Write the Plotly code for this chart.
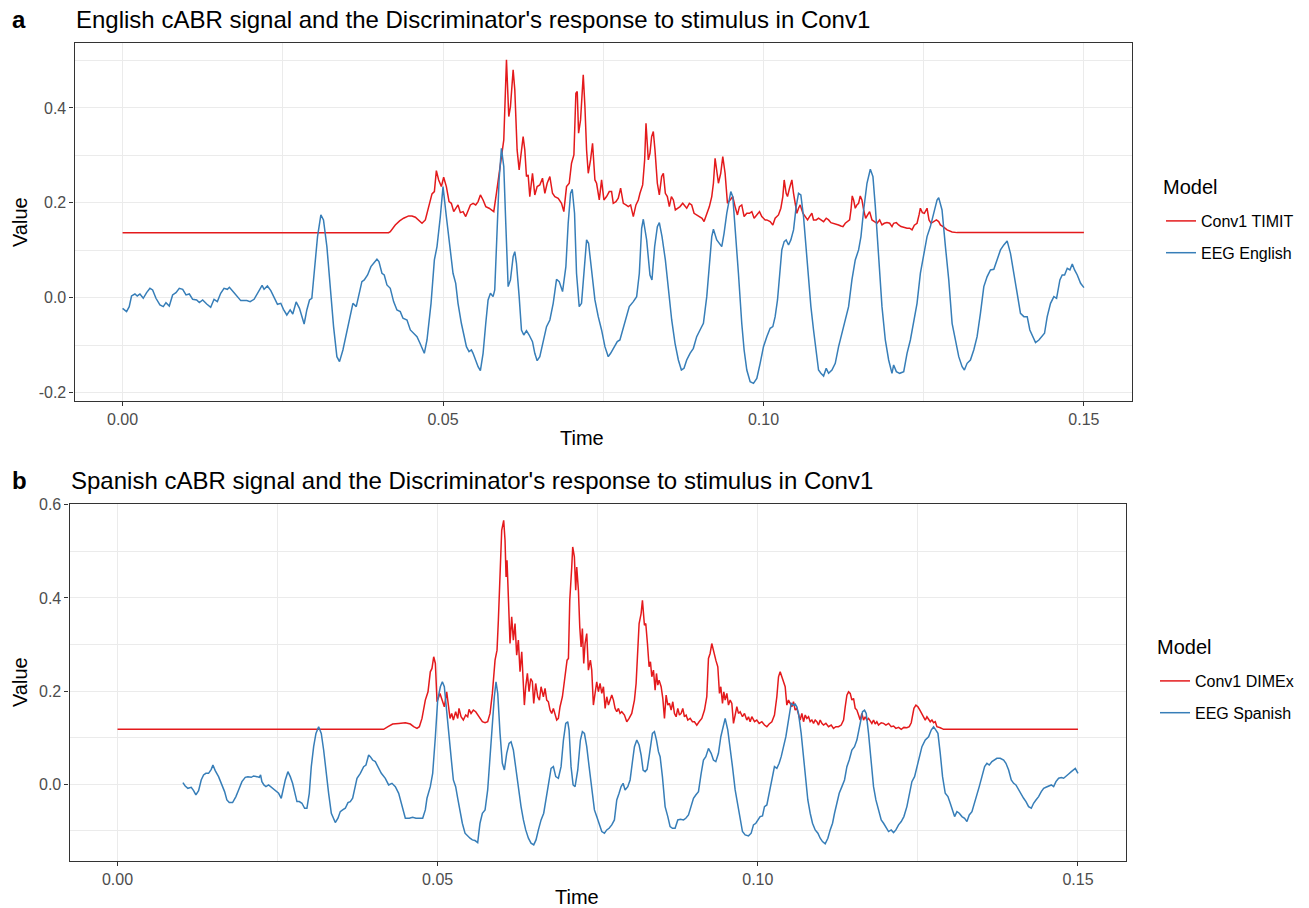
import plotly.graph_objects as go

# ---------------- Panel a data ----------------
a_red_t = [0.0, 0.0415, 0.04177, 0.04255, 0.04323, 0.04385, 0.04464, 0.04516, 0.04568, 0.0462, 0.04672,
           0.04724, 0.04776, 0.04828, 0.04865, 0.04896, 0.04932, 0.04974, 0.0501,
           0.05052, 0.05094, 0.0513, 0.05167, 0.05198, 0.05234, 0.05271, 0.05313, 0.05354, 0.05391, 0.05427,
           0.05469, 0.0551, 0.05547, 0.05583, 0.05625, 0.05667, 0.05719, 0.05755, 0.05792, 0.05833, 0.05875,
           0.05911, 0.05948, 0.0599, 0.06026, 0.06052, 0.06094, 0.0612, 0.06156, 0.06188, 0.06224, 0.0625,
           0.06276, 0.06302, 0.06328, 0.06354, 0.06396, 0.06432, 0.06469, 0.0651, 0.06552, 0.06589, 0.06625,
           0.06667, 0.06708, 0.06745, 0.06797, 0.06849, 0.06885, 0.06927, 0.06969, 0.07005, 0.07042, 0.07073,
           0.07094, 0.07115, 0.07146, 0.07188, 0.07214, 0.0724, 0.07266, 0.07302, 0.07333, 0.0737, 0.07396,
           0.07438, 0.07474, 0.0751, 0.07552, 0.07594, 0.0763, 0.07656, 0.07698, 0.07734, 0.07771, 0.07813,
           0.07854, 0.07891, 0.07927, 0.07969, 0.0801, 0.08047, 0.08073, 0.08115, 0.08146, 0.08167, 0.08203,
           0.08229, 0.08255, 0.08281, 0.08307, 0.08344, 0.08375, 0.08411, 0.08438, 0.08469, 0.085, 0.08531,
           0.08563, 0.08594, 0.08625, 0.08656, 0.08698, 0.0874, 0.08776, 0.08802, 0.08844, 0.0888, 0.08917,
           0.08958, 0.09, 0.09042, 0.09073, 0.09115, 0.09156, 0.09193, 0.09219, 0.09245, 0.09271, 0.09297,
           0.09333, 0.09365, 0.09401, 0.09438, 0.09479, 0.09521, 0.09557, 0.09594, 0.09625, 0.09661, 0.09698,
           0.0974, 0.09781, 0.09818, 0.09854, 0.09896, 0.09938, 0.09974, 0.10026,
           0.10052, 0.10104, 0.10146, 0.10182, 0.10234, 0.10271, 0.10302, 0.10323, 0.10354, 0.10375, 0.10406,
           0.10443, 0.10469, 0.10495, 0.10521, 0.10547, 0.10573, 0.10615, 0.10651, 0.10688, 0.10719, 0.10755,
           0.10781, 0.10823, 0.10859, 0.10896, 0.10938, 0.10979, 0.11016, 0.11052, 0.11094, 0.11135, 0.11172,
           0.11208, 0.1124, 0.11276, 0.11313, 0.11344, 0.11365, 0.11385, 0.11406, 0.11432, 0.11458, 0.11484,
           0.1151, 0.11536, 0.11563, 0.11594, 0.11625, 0.11656, 0.11693, 0.11729, 0.11771, 0.11813, 0.11849,
           0.11885, 0.11927, 0.11969, 0.12005, 0.12031, 0.12073, 0.12109, 0.12146, 0.12188, 0.1224, 0.12281,
           0.12318, 0.12354, 0.12396, 0.12427, 0.12448, 0.12479, 0.1251, 0.12552, 0.12583, 0.12615, 0.12656,
           0.12698, 0.12734, 0.1276, 0.12802, 0.12865, 0.12943, 0.13021, 0.15]
a_red_v = [0.137, 0.137, 0.1392, 0.1533, 0.1617, 0.1674, 0.1723, 0.1723, 0.1695, 0.1639, 0.1568,
           0.1639, 0.192, 0.2187, 0.2236, 0.2679, 0.2482, 0.2342, 0.2539,
           0.2342, 0.2025, 0.199, 0.1814, 0.1885, 0.1955, 0.1793, 0.1814, 0.1709, 0.185, 0.1955,
           0.199, 0.1955, 0.2025, 0.2166, 0.206, 0.192, 0.1885, 0.185, 0.1814, 0.2201, 0.2623,
           0.3045, 0.3326, 0.5014, 0.3819, 0.403, 0.4803, 0.4381, 0.3115, 0.2693, 0.3115, 0.3397,
           0.3115, 0.2553, 0.2588, 0.2131, 0.2623, 0.2166, 0.2342, 0.2377, 0.2518, 0.2201, 0.2412,
           0.2553, 0.2201, 0.2131, 0.2096, 0.199, 0.1814, 0.2342, 0.2412, 0.2834, 0.301, 0.4311,
           0.4346, 0.3467, 0.3748, 0.4698, 0.403, 0.3115, 0.2623, 0.2904, 0.3256, 0.2482, 0.2412,
           0.206, 0.2482, 0.206, 0.2131, 0.2236, 0.2236, 0.199, 0.2025, 0.2096, 0.2307, 0.199,
           0.1955, 0.192, 0.1955, 0.1709, 0.1955, 0.206, 0.2201, 0.2377, 0.2904, 0.3678, 0.2904,
           0.3045, 0.3397, 0.3502, 0.3115, 0.2412, 0.2166, 0.2553, 0.2623, 0.2201, 0.2131, 0.192,
           0.2131, 0.206, 0.185, 0.1885, 0.192, 0.199, 0.192, 0.1885, 0.199, 0.1955, 0.1779,
           0.1744, 0.1709, 0.1674, 0.1603, 0.1779, 0.192, 0.2131, 0.2412, 0.2939, 0.2693, 0.2412,
           0.2623, 0.2975, 0.2623, 0.199, 0.206, 0.2131, 0.192, 0.1744, 0.192, 0.1955, 0.1709,
           0.1779, 0.1779, 0.1814, 0.1674, 0.1744, 0.1814, 0.1709, 0.1639,
           0.1639, 0.1603, 0.1533, 0.1674, 0.1744, 0.1885, 0.2131, 0.2482, 0.2201, 0.2131, 0.2307,
           0.2482, 0.2201, 0.1955, 0.1779, 0.1885, 0.1955, 0.1779, 0.1709, 0.1639, 0.1709, 0.1779,
           0.1639, 0.1639, 0.1674, 0.1639, 0.1603, 0.1674, 0.1639, 0.1582, 0.1568, 0.1554, 0.1533,
           0.1512, 0.1498, 0.1568, 0.1603, 0.1639, 0.1849, 0.2145, 0.206, 0.1885, 0.1955, 0.199,
           0.2145, 0.206, 0.1849, 0.1674, 0.1744, 0.1814, 0.1639, 0.1603, 0.1568, 0.1639, 0.1533,
           0.1568, 0.1582, 0.1568, 0.1498, 0.1568, 0.1582, 0.1533, 0.1498, 0.1484, 0.1463, 0.1463,
           0.1428, 0.1526, 0.1568, 0.1744, 0.1885, 0.1793, 0.1779, 0.1885, 0.1639, 0.1568, 0.1603,
           0.1639, 0.1603, 0.1533, 0.1498, 0.1428, 0.1385, 0.1371, 0.1371]

a_blue_t = [0.0, 0.000625, 0.00104, 0.0014, 0.00193, 0.00229, 0.00271, 0.00323, 0.00375, 0.00427, 0.00469,
            0.00521, 0.00583, 0.00635, 0.00677, 0.00729, 0.00781, 0.00833, 0.00885, 0.00938, 0.0099, 0.01042,
            0.01094, 0.01156, 0.01198, 0.0125, 0.01313, 0.01375, 0.01427, 0.01479, 0.01531, 0.01583, 0.01635,
            0.01667, 0.0174, 0.01792, 0.01844, 0.01938, 0.0199, 0.02052, 0.02104, 0.02177, 0.02208, 0.0226,
            0.02313, 0.02365, 0.02417, 0.02469, 0.0251, 0.02563, 0.02615, 0.02656, 0.02708, 0.0276, 0.02797,
            0.02833, 0.02875, 0.02917, 0.02953, 0.0299, 0.03042, 0.03094, 0.03135, 0.03188, 0.0324, 0.03292,
            0.03344, 0.03385, 0.03438, 0.0349, 0.03542, 0.03594, 0.03646, 0.03682, 0.03734, 0.03771, 0.03823,
            0.03875, 0.03927, 0.03969, 0.04, 0.04047, 0.04083, 0.04125, 0.04177, 0.04229, 0.04281, 0.04333,
            0.04375, 0.04438, 0.0449, 0.04542, 0.04594, 0.04646, 0.04708, 0.0475, 0.04813, 0.04865, 0.04906,
            0.04958,
            0.05, 0.05052, 0.05104, 0.05156, 0.05198, 0.05234, 0.05286, 0.05323, 0.05365, 0.05406, 0.05443,
            0.05469, 0.0551, 0.05547, 0.05583, 0.05625, 0.05667, 0.05703, 0.0574, 0.05781, 0.05807, 0.05833,
            0.05875, 0.05911, 0.05948, 0.05979, 0.06016, 0.06052, 0.06094, 0.0612, 0.06146, 0.06188, 0.06224,
            0.0626, 0.06302, 0.06344, 0.06396, 0.06432, 0.06469, 0.0651, 0.06563, 0.06615, 0.06667, 0.06719,
            0.06771, 0.06813, 0.06865, 0.06917, 0.06953, 0.0699, 0.07016, 0.07052, 0.07083, 0.07125, 0.07161,
            0.07198, 0.0724, 0.07271, 0.07318, 0.0737, 0.07422, 0.07474, 0.07526, 0.07578, 0.07615, 0.07667,
            0.07719, 0.0776, 0.07802, 0.07854, 0.07906, 0.07969, 0.08021, 0.08063, 0.08099, 0.08125, 0.08177,
            0.08229, 0.0826, 0.08302, 0.08344, 0.08375, 0.08417, 0.08469, 0.08521, 0.08568, 0.0862, 0.08672,
            0.08719, 0.0876, 0.08802, 0.08854, 0.08906, 0.08958, 0.0901, 0.09063, 0.09115, 0.09156, 0.09193,
            0.09219, 0.09271, 0.09349, 0.09385, 0.09427, 0.09469, 0.0949, 0.09521, 0.09557, 0.09609, 0.09661,
            0.09698, 0.0974, 0.09792, 0.09844, 0.09896, 0.09948, 0.1, 0.10052, 0.10104,
            0.10146, 0.10182, 0.10219, 0.1025, 0.10286, 0.10323, 0.10354, 0.10391, 0.10427, 0.10469, 0.1051,
            0.10547, 0.10583, 0.10625, 0.10667, 0.10703, 0.1074, 0.10781, 0.10823, 0.10859, 0.10896, 0.10938,
            0.10979, 0.11016, 0.11068, 0.1112, 0.11172, 0.11224, 0.11276, 0.11328, 0.1138, 0.11432, 0.11484,
            0.11521, 0.11563, 0.11615, 0.11667, 0.11708, 0.11745, 0.11797, 0.11849, 0.11901, 0.11953, 0.12005,
            0.12031, 0.12073, 0.12125, 0.12188, 0.1224, 0.12292, 0.12344, 0.12396, 0.12448, 0.125, 0.12552,
            0.12604, 0.12656, 0.12708, 0.12734, 0.12786, 0.12839, 0.12891, 0.12943, 0.12995, 0.13047, 0.13099,
            0.13135, 0.13177, 0.13229, 0.13281, 0.13333, 0.13385, 0.13438, 0.1349, 0.13542, 0.13594, 0.13646,
            0.13698, 0.1375, 0.13802, 0.13854, 0.13906, 0.13958, 0.1401, 0.14063, 0.14115, 0.14156, 0.14193,
            0.14245, 0.14297, 0.14349, 0.14385, 0.14427, 0.14479, 0.14531, 0.14573, 0.14625, 0.14661, 0.14698,
            0.1474, 0.14781, 0.14818, 0.14854, 0.14896, 0.14948, 0.15]
a_blue_v = [-0.0225, -0.0295, -0.019, 0.0035, 0.0077, 0.0035, 0.0077, -0.0014, 0.0105, 0.0197, 0.0162,
            -0.0014, -0.0155, -0.019, -0.0105, -0.0176, 0.0056, 0.0105, 0.0197, 0.0176, 0.0056, 0.0077,
            -0.0035, -0.0049, -0.0105, -0.0049, -0.0134, -0.0204, -0.0035, -0.0084, 0.0091, 0.0197, 0.0176,
            0.0218, 0.0105, 0.0021, -0.0063, -0.0063, -0.0084, -0.0035, 0.0091, 0.026, 0.0176, 0.0246,
            0.0148, -0.0014, -0.0141, -0.012, -0.0246, -0.0366, -0.026, -0.0345, -0.0091, -0.0225, -0.0401,
            -0.0556, -0.026, -0.0049, -0.0014, 0.0513, 0.1287, 0.1744, 0.1639, 0.1076, 0.0232, -0.0612,
            -0.1245, -0.135, -0.1104, -0.0752, -0.0401, -0.012, -0.019, 0.0056, 0.0338, 0.0373, 0.0478,
            0.0654, 0.0738, 0.0809, 0.076, 0.0513, 0.0478, 0.0267, 0.0197, -0.0084, -0.026, -0.0295,
            -0.0436, -0.0471, -0.0682, -0.0752, -0.0823, -0.0977, -0.1174, -0.0893, -0.012, 0.0795, 0.1076,
            0.1709,
            0.2342, 0.1709, 0.1076, 0.0513, 0.0302, -0.012, -0.0541, -0.0752, -0.1034, -0.1139, -0.1104,
            -0.1174, -0.135, -0.1456, -0.154, -0.1174, -0.0541, -0.0049, 0.0091, 0.0021, 0.0162, 0.1217,
            0.2482, 0.315, 0.2764, 0.1568, 0.0232, 0.0373, 0.0865, 0.097, 0.0724, 0.0021, -0.0682,
            -0.0788, -0.0696, -0.0788, -0.0928, -0.1174, -0.1329, -0.1245, -0.0893, -0.0612, -0.0471, -0.012,
            0.0387, 0.0338, 0.0127, 0.0654, 0.1568, 0.2201, 0.2286, 0.1779, 0.0513, -0.019, -0.012,
            0.0513, 0.1217, 0.1146, 0.0584, -0.0049, -0.0401, -0.0682, -0.1034, -0.1245, -0.1174, -0.1034,
            -0.0928, -0.0893, -0.0682, -0.0471, -0.019, -0.0084, 0.0021, 0.0513, 0.1463, 0.1653, 0.1217,
            0.0478, 0.0373, 0.1076, 0.1498, 0.1582, 0.1287, 0.0795, 0.0091, -0.0471, -0.0963, -0.1315,
            -0.1526, -0.1491, -0.1315, -0.1174, -0.1069, -0.0823, -0.0682, -0.0541, 0.0021, 0.0795, 0.1287,
            0.1442, 0.1217, 0.1076, 0.1357, 0.1779, 0.2131, 0.2236, 0.2131, 0.1498, 0.0513, -0.0541,
            -0.1104, -0.1526, -0.1772, -0.1807, -0.1702, -0.1385, -0.1034, -0.0823, -0.0647,
            -0.0612, -0.0401, -0.0049, 0.0513, 0.1006, 0.1181, 0.1217, 0.1111, 0.1217, 0.1428, 0.192,
            0.2201, 0.2166, 0.1709, 0.0935, 0.0373, -0.019, -0.0682, -0.1104, -0.1526, -0.1596, -0.1653,
            -0.1491, -0.1596, -0.1526, -0.1385, -0.1034, -0.0752, -0.0471, -0.019, 0.0373, 0.0795, 0.1006,
            0.1287, 0.1849, 0.2412, 0.2707, 0.2553, 0.192, 0.0935, -0.019, -0.0893, -0.1315, -0.1596,
            -0.142, -0.1561, -0.1596, -0.1561, -0.1174, -0.0893, -0.0471, -0.012, 0.0513, 0.0865, 0.1287,
            0.1498, 0.1779, 0.206, 0.211, 0.1849, 0.1076, 0.0373, -0.0541, -0.0893, -0.1245, -0.1456,
            -0.1526, -0.1385, -0.1315, -0.1104, -0.0823, -0.0331, 0.0232, 0.0443, 0.0584, 0.0598, 0.0795,
            0.1006, 0.1111, 0.1196, 0.0935, 0.0513, 0.0162, -0.0331, -0.0401, -0.0401, -0.0682, -0.0788,
            -0.0949, -0.0893, -0.0823, -0.0752, -0.0401, -0.012, 0.0021, -0.0014, 0.0373, 0.0478, 0.0478,
            0.0619, 0.0584, 0.071, 0.0584, 0.0478, 0.0302, 0.0211]

# ---------------- Panel b data ----------------
b_red_t = [0.0, 0.0415, 0.04156, 0.04224, 0.04297, 0.04391, 0.04495, 0.04573, 0.04625, 0.04677, 0.04714,
           0.04755, 0.04807, 0.04849, 0.04885, 0.04911, 0.04938, 0.04964, 0.0499,
           0.05036, 0.05073, 0.05104, 0.05141, 0.05167, 0.05193, 0.05219, 0.05245, 0.05281, 0.05313, 0.05333,
           0.05365, 0.05401, 0.05438, 0.05469, 0.0549, 0.05521, 0.05557, 0.05594, 0.05625, 0.05661, 0.05698,
           0.0574, 0.05781, 0.05818, 0.05854, 0.05896, 0.05927, 0.05948, 0.05974, 0.06, 0.06031, 0.06052,
           0.06068, 0.06083, 0.06104, 0.0613, 0.06156, 0.06182, 0.06208, 0.06234, 0.0626, 0.06286, 0.06313,
           0.06333, 0.06354, 0.06375, 0.06401, 0.06427, 0.06453, 0.06479, 0.065, 0.06531, 0.06563, 0.06589,
           0.06615, 0.06651, 0.06677, 0.06703, 0.06729, 0.06755, 0.06781, 0.06807, 0.06833, 0.06859, 0.06885,
           0.06911, 0.06948, 0.0699, 0.07021, 0.07042, 0.07063, 0.07094, 0.07109, 0.07135, 0.07156, 0.07172,
           0.07198, 0.07219, 0.0724, 0.0726, 0.07281, 0.07302, 0.07328, 0.07354, 0.07385, 0.07406, 0.07432,
           0.07458, 0.07484, 0.0751, 0.07536, 0.07563, 0.07589, 0.07615, 0.07641, 0.07667, 0.07693, 0.07719,
           0.07745, 0.07771, 0.07797, 0.07823, 0.07849, 0.07875, 0.07917, 0.07953, 0.0799, 0.08031, 0.08073,
           0.08099, 0.08125, 0.08146, 0.08177, 0.08198, 0.08229, 0.0825, 0.08276, 0.08302, 0.08323, 0.08344,
           0.0837, 0.08396, 0.08417, 0.08438, 0.08458, 0.0849, 0.08516, 0.08542, 0.08568, 0.08594, 0.0862,
           0.08646, 0.08672, 0.08698, 0.08724, 0.0875, 0.08776, 0.08802, 0.08828, 0.08854, 0.0888, 0.08906,
           0.08943, 0.08979, 0.0901, 0.09047, 0.09083, 0.09125, 0.09167, 0.09203, 0.09229, 0.09255, 0.09281,
           0.09313, 0.09344, 0.09375, 0.09401, 0.09422, 0.09448, 0.09469, 0.0949, 0.09516, 0.09542, 0.09568,
           0.09594, 0.0962, 0.09646, 0.09672, 0.09698, 0.09724, 0.0976, 0.09792, 0.09828, 0.09854, 0.0988,
           0.09906, 0.09948, 0.09984, 0.10021, 0.10063,
           0.10104, 0.10141, 0.10177, 0.10219, 0.1026, 0.10297, 0.10323, 0.10349, 0.10375, 0.10401, 0.10427,
           0.10453, 0.10479, 0.10505, 0.10531, 0.10557, 0.10583, 0.10609, 0.10635, 0.10661, 0.10688, 0.10714,
           0.1074, 0.10766, 0.10792, 0.10818, 0.10844, 0.1087, 0.10896, 0.10922, 0.10948, 0.10974, 0.11,
           0.11026, 0.11063, 0.11104, 0.11146, 0.11182, 0.11219, 0.1126, 0.11302, 0.11339, 0.11365, 0.11391,
           0.11417, 0.11443, 0.11469, 0.11495, 0.11521, 0.11547, 0.11573, 0.11599, 0.11625, 0.11651, 0.11677,
           0.11703, 0.11729, 0.11755, 0.11781, 0.11807, 0.11833, 0.11859, 0.11885, 0.11927, 0.11964, 0.12,
           0.12042, 0.12083, 0.1212, 0.12156, 0.12198, 0.1224, 0.12281, 0.12328, 0.12365, 0.12396, 0.12417,
           0.12438, 0.12469, 0.125, 0.12531, 0.12563, 0.12589, 0.12615, 0.12641, 0.12667, 0.12693, 0.12719,
           0.12745, 0.12771, 0.12797, 0.12849, 0.12901, 0.15]
b_red_v = [0.118, 0.118, 0.1179, 0.1236, 0.1293, 0.1307, 0.1321, 0.1293, 0.1236, 0.12, 0.1236,
           0.1414, 0.1807, 0.1986, 0.2414, 0.2486, 0.2736, 0.2593, 0.1771,
           0.195, 0.1807, 0.1664, 0.1986, 0.1664, 0.1414, 0.1521, 0.1379, 0.1557, 0.1414, 0.1629,
           0.145, 0.1379, 0.1486, 0.145, 0.1607, 0.1521, 0.1593, 0.1557, 0.1486, 0.1414, 0.1343,
           0.1321, 0.1343, 0.1521, 0.195, 0.2664, 0.2879, 0.3521, 0.4664, 0.545, 0.5664, 0.5236,
           0.445, 0.4807, 0.4021, 0.3021, 0.3593, 0.3093, 0.345, 0.2771, 0.3093, 0.2414, 0.2843,
           0.2307, 0.17, 0.2093, 0.2379, 0.1986, 0.2271, 0.22, 0.1736, 0.2164, 0.1879, 0.1807,
           0.2093, 0.1879, 0.2057, 0.1807, 0.1771, 0.1593, 0.1521, 0.1629, 0.1521, 0.1379, 0.1414,
           0.1664, 0.1879, 0.2379, 0.2664, 0.27, 0.395, 0.4664, 0.5093, 0.4879, 0.4164, 0.4664,
           0.4164, 0.3379, 0.295, 0.3343, 0.2593, 0.3021, 0.3236, 0.245, 0.2664, 0.245, 0.17,
           0.195, 0.22, 0.1986, 0.2164, 0.195, 0.2093, 0.1629, 0.1879, 0.17, 0.1807, 0.1914,
           0.1807, 0.1629, 0.1557, 0.1629, 0.1521, 0.1557, 0.1486, 0.1343, 0.1414, 0.1521, 0.1807,
           0.2164, 0.2879, 0.345, 0.3664, 0.395, 0.3414, 0.345, 0.3021, 0.2521, 0.2629, 0.2307,
           0.245, 0.2021, 0.2379, 0.2129, 0.2236, 0.2093, 0.1843, 0.1414, 0.1914, 0.17, 0.1736,
           0.1593, 0.1771, 0.1521, 0.145, 0.1629, 0.1486, 0.1521, 0.1629, 0.145, 0.1486, 0.1379,
           0.1414, 0.1343, 0.1343, 0.1271, 0.1343, 0.1414, 0.1593, 0.1879, 0.27, 0.2807, 0.3021,
           0.2807, 0.2664, 0.2521, 0.195, 0.2093, 0.1736, 0.1986, 0.1807, 0.195, 0.17, 0.1807,
           0.1736, 0.1307, 0.1521, 0.1664, 0.1521, 0.1557, 0.145, 0.1521, 0.1379, 0.145, 0.1343,
           0.145, 0.1343, 0.1379, 0.1307, 0.1343,
           0.1271, 0.1236, 0.1293, 0.1343, 0.1486, 0.1879, 0.2307, 0.2414, 0.2307, 0.22, 0.2093,
           0.17, 0.1807, 0.1736, 0.1664, 0.1771, 0.1593, 0.1629, 0.1521, 0.1379, 0.1521, 0.1343,
           0.1486, 0.1414, 0.145, 0.1343, 0.1379, 0.1307, 0.1379, 0.1343, 0.1271, 0.1379, 0.1307,
           0.1271, 0.1307, 0.1236, 0.1271, 0.12, 0.1236, 0.1236, 0.1271, 0.1379, 0.1664, 0.1914,
           0.1986, 0.195, 0.1807, 0.1843, 0.1629, 0.1593, 0.1486, 0.1379, 0.1521, 0.1379, 0.145,
           0.1379, 0.1414, 0.1343, 0.1307, 0.1379, 0.1293, 0.1343, 0.1271, 0.1321, 0.1307, 0.1271,
           0.1307, 0.1236, 0.125, 0.12, 0.1221, 0.1179, 0.1221, 0.1214, 0.1236, 0.1321, 0.145,
           0.1629, 0.17, 0.1664, 0.1593, 0.1521, 0.145, 0.1379, 0.145, 0.1379, 0.1343, 0.1379,
           0.1321, 0.1343, 0.1236, 0.1214, 0.1179, 0.1179]

b_blue_t = [0.01021, 0.01057, 0.01099, 0.01151, 0.01188, 0.01224, 0.01266, 0.01307, 0.01344, 0.0138, 0.01422,
            0.01464, 0.0149, 0.01526, 0.01578, 0.0163, 0.01672, 0.01708, 0.01745, 0.01797, 0.01849, 0.01891,
            0.01943, 0.01995, 0.02036, 0.02089, 0.02125, 0.02177, 0.02214, 0.02234, 0.02255, 0.02286, 0.02318,
            0.02359, 0.02401, 0.02438, 0.02474, 0.02516, 0.02557, 0.02594, 0.0262, 0.02661, 0.02698, 0.02734,
            0.02766, 0.02802, 0.02839, 0.0288, 0.02922, 0.02958, 0.02995, 0.03026, 0.03063, 0.03099, 0.03141,
            0.03182, 0.03219, 0.03255, 0.03297, 0.03339, 0.03375, 0.03401, 0.03443, 0.03479, 0.03516, 0.03557,
            0.03599, 0.03635, 0.03672, 0.03703, 0.0374, 0.03792, 0.03844, 0.0388, 0.03922, 0.03948, 0.03984,
            0.04026, 0.04068, 0.0412, 0.04182, 0.04234, 0.04286, 0.04339, 0.04391, 0.04443, 0.04495, 0.04557,
            0.04609, 0.04661, 0.04714, 0.04766, 0.04807, 0.04833, 0.04885, 0.04922, 0.04964, 0.05, 0.05042,
            0.05073, 0.05104, 0.05141, 0.05177, 0.05219, 0.05245, 0.05281, 0.05313, 0.05349, 0.05385, 0.05427,
            0.05469, 0.05505, 0.05542, 0.05583, 0.05625, 0.05661, 0.05698, 0.0574, 0.05781, 0.05818, 0.05854,
            0.05885, 0.05911, 0.05938, 0.05974, 0.0601, 0.06042, 0.06078, 0.06115, 0.06146, 0.06182, 0.06219,
            0.0626, 0.06302, 0.06339, 0.06375, 0.06417, 0.06458, 0.065, 0.06536, 0.06573, 0.06615, 0.06656,
            0.06688, 0.06729, 0.06771, 0.06807, 0.06844, 0.06885, 0.06927, 0.06964, 0.07, 0.07031, 0.07052,
            0.07083, 0.07115, 0.07146, 0.07188, 0.07229, 0.0726, 0.07292, 0.07328, 0.07365, 0.07406, 0.07448,
            0.07484, 0.07521, 0.07563, 0.07604, 0.07641, 0.07677, 0.07719, 0.0776, 0.07797, 0.07833, 0.07865,
            0.07896, 0.07927, 0.07969, 0.08005, 0.08042, 0.08073, 0.0811, 0.08146, 0.08177, 0.08208, 0.0824,
            0.08271, 0.08302, 0.08333, 0.08354, 0.08385, 0.08417, 0.08448, 0.08474, 0.0851, 0.08552, 0.08594,
            0.0863, 0.08667, 0.08708, 0.0875, 0.08792, 0.08839, 0.08875, 0.08917, 0.08958, 0.08995, 0.09031,
            0.09073, 0.09115, 0.09151, 0.09188, 0.09229, 0.09271, 0.09307, 0.09344, 0.09385, 0.09422, 0.09453,
            0.0949, 0.09531, 0.09568, 0.09604, 0.09646, 0.09688, 0.09724, 0.0976, 0.09802, 0.09854, 0.09896,
            0.09932, 0.09969, 0.1, 0.10036, 0.10073, 0.10104,
            0.10141, 0.10167, 0.10193, 0.10229, 0.1026, 0.10297, 0.10333, 0.10365, 0.10401, 0.10438, 0.10479,
            0.10521, 0.10557, 0.10583, 0.10609, 0.10635, 0.10677, 0.10714, 0.1075, 0.10781, 0.10818, 0.10854,
            0.10896, 0.10938, 0.10974, 0.1101, 0.11052, 0.11094, 0.1113, 0.11167, 0.11198, 0.11234, 0.11271,
            0.11313, 0.11354, 0.11391, 0.11427, 0.11469, 0.1151, 0.11547, 0.11583, 0.11615, 0.11635, 0.11667,
            0.11693, 0.11729, 0.11771, 0.11807, 0.11844, 0.11885, 0.11927, 0.11964, 0.12, 0.12042, 0.12083,
            0.1212, 0.12156, 0.12198, 0.1224, 0.12281, 0.12328, 0.12365, 0.12406, 0.12448, 0.12484, 0.12521,
            0.12563, 0.12615, 0.12667, 0.12708, 0.12745, 0.12781, 0.12813, 0.12849, 0.12885, 0.12927, 0.12969,
            0.13005, 0.13042, 0.13073, 0.1311, 0.13146, 0.13188, 0.13229, 0.13266, 0.13302, 0.13344, 0.13385,
            0.13422, 0.13458, 0.135, 0.13542, 0.13578, 0.13615, 0.13656, 0.13698, 0.13734, 0.13786, 0.13839,
            0.13875, 0.13917, 0.13958, 0.13995, 0.14031, 0.14073, 0.14115, 0.14151, 0.14188, 0.14229, 0.14271,
            0.14307, 0.14344, 0.14385, 0.14427, 0.14464, 0.145, 0.14542, 0.14583, 0.1462, 0.14656, 0.14698,
            0.1474, 0.14776, 0.14813, 0.14854, 0.14896, 0.14932, 0.14958, 0.15]
b_blue_v = [0.0036, -0.0036, -0.0086, -0.0064, -0.0136, -0.0229, -0.0136, 0.0093, 0.02, 0.0236, 0.0236,
            0.0321, 0.0414, 0.0293, 0.0164, -0.0014, -0.0157, -0.0336, -0.0393, -0.0393, -0.0264, -0.0121,
            0.0057, 0.015, 0.0164, 0.015, 0.0179, 0.0164, 0.015, 0.02, 0.0057, -0.0014, -0.005,
            -0.0014, -0.0064, -0.0121, -0.0157, -0.0193, -0.03, -0.005, 0.0093, 0.0271, 0.0164, 0.0021,
            -0.0193, -0.0371, -0.0371, -0.0407, -0.0514, -0.0514, -0.0193, 0.0379, 0.0807, 0.1093, 0.1236,
            0.1093, 0.0736, 0.0236, -0.0193, -0.0621, -0.0764, -0.0821, -0.0729, -0.0586, -0.055, -0.0514,
            -0.0393, -0.0371, -0.03, -0.0086, 0.0129, 0.0236, 0.0379, 0.0414, 0.0629, 0.0593, 0.0521,
            0.0486, 0.0379, 0.0236, 0.0129, -0.0014, 0.0021, -0.005, -0.0193, -0.0443, -0.0729, -0.0729,
            -0.0707, -0.0729, -0.0729, -0.0729, -0.055, -0.03, -0.005, 0.0236, 0.1021, 0.1807, 0.2093,
            0.22, 0.2093, 0.1521, 0.095, 0.045, 0.0093, -0.005, -0.03, -0.0586, -0.0836, -0.105,
            -0.1121, -0.1157, -0.1193, -0.1207, -0.125, -0.0836, -0.0621, -0.055, -0.0121, 0.0593, 0.1379,
            0.1879, 0.22, 0.195, 0.1093, 0.045, 0.0307, 0.0664, 0.0879, 0.0914, 0.0736, 0.0379,
            -0.0121, -0.0479, -0.0764, -0.0979, -0.1157, -0.1264, -0.13, -0.1193, -0.0979, -0.0764, -0.0621,
            -0.0336, 0.0021, 0.0343, 0.0379, 0.0164, 0.0129, 0.0379, 0.095, 0.1307, 0.1343, 0.1164,
            0.0379, -0.0014, -0.005, 0.0307, 0.095, 0.1129, 0.1093, 0.0807, 0.0379, -0.0121, -0.055,
            -0.0693, -0.0836, -0.1014, -0.105, -0.0979, -0.0943, -0.0871, -0.0764, -0.0336, -0.0193, -0.005,
            0.0021, -0.0121, -0.005, 0.0093, 0.0486, 0.0807, 0.095, 0.0843, 0.0629, 0.0307, 0.0271,
            0.0321, 0.0593, 0.0879, 0.1093, 0.1129, 0.095, 0.07, 0.0593, 0.0164, -0.0479, -0.0693,
            -0.0907, -0.0943, -0.0943, -0.0764, -0.075, -0.0764, -0.0729, -0.0657, -0.0479, -0.03, -0.0229,
            -0.0157, 0.0236, 0.0521, 0.0593, 0.0771, 0.0664, 0.0521, 0.0486, 0.0664, 0.1021, 0.1236,
            0.1414, 0.1164, 0.0807, 0.0379, -0.0121, -0.0479, -0.0764, -0.1014, -0.1086, -0.1107, -0.105,
            -0.0871, -0.0836, -0.0764, -0.0693, -0.0679, -0.0479,
            -0.0443, -0.0264, -0.0121, 0.0093, 0.0379, 0.0343, 0.045, 0.0593, 0.0807, 0.1021, 0.1379,
            0.1736, 0.17, 0.1721, 0.1664, 0.1521, 0.1093, 0.0521, 0.0021, -0.0336, -0.0621, -0.0836,
            -0.0979, -0.105, -0.1157, -0.1229, -0.1279, -0.1157, -0.0979, -0.0836, -0.0621, -0.0407, -0.0193,
            -0.005, 0.0093, 0.0379, 0.0521, 0.0736, 0.0807, 0.095, 0.1236, 0.145, 0.1557, 0.1593,
            0.1521, 0.1093, 0.0521, -0.005, -0.0336, -0.055, -0.0764, -0.0836, -0.0907, -0.1014, -0.0979,
            -0.1036, -0.0979, -0.0871, -0.08, -0.0693, -0.0479, -0.0193, 0.0057, 0.0164, 0.0379, 0.0557,
            0.0807, 0.095, 0.1021, 0.1164, 0.1236, 0.1164, 0.1093, 0.0664, 0.0164, -0.0193, -0.0264,
            -0.0407, -0.0586, -0.0693, -0.0586, -0.0621, -0.0693, -0.0729, -0.08, -0.0657, -0.0586, -0.0407,
            -0.0193, -0.005, 0.0164, 0.0379, 0.045, 0.0414, 0.0486, 0.0521, 0.0557, 0.0557, 0.0521,
            0.045, 0.0307, 0.0093, 0.0021, -0.0014, -0.0121, -0.0229, -0.03, -0.0371, -0.0479, -0.0514,
            -0.0407, -0.0336, -0.0264, -0.0157, -0.0086, -0.0064, -0.0036, -0.0014, -0.005, 0.0057, 0.0129,
            0.0143, 0.0129, 0.0164, 0.0221, 0.0271, 0.0307, 0.0343, 0.0236]

# ---------------- Labels ----------------
x_tickvals = [0.0, 0.05, 0.10, 0.15]
x_ticktext = ["0.00", "0.05", "0.10", "0.15"]
a_y_tickvals = [-0.2, 0.0, 0.2, 0.4]
a_y_ticktext = ["-0.2", "0.0", "0.2", "0.4"]
b_y_tickvals = [0.0, 0.2, 0.4, 0.6]
b_y_ticktext = ["0.0", "0.2", "0.4", "0.6"]
a_series_names = ["Conv1 TIMIT", "EEG English"]
b_series_names = ["Conv1 DIMEx", "EEG Spanish"]
title_a = "English cABR signal and the Discriminator's response to stimulus in Conv1"
title_b = "Spanish cABR signal and the Discriminator's response to stimulus in Conv1"
x_title = "Time"
y_title = "Value"
legend_title = "Model"

RED = "#E41A1C"
BLUE = "#377EB8"
FONT = "Liberation Sans, Arial, Helvetica, sans-serif"
W, H = 1309, 908

fig = go.Figure()
fig.add_trace(go.Scatter(x=a_red_t, y=a_red_v, mode="lines", name=a_series_names[0],
                         line=dict(color=RED, width=1.5), xaxis="x", yaxis="y",
                         legend="legend", legendgroup="a1"))
fig.add_trace(go.Scatter(x=a_blue_t, y=a_blue_v, mode="lines", name=a_series_names[1],
                         line=dict(color=BLUE, width=1.5), xaxis="x", yaxis="y",
                         legend="legend", legendgroup="a2"))
fig.add_trace(go.Scatter(x=b_red_t, y=b_red_v, mode="lines", name=b_series_names[0],
                         line=dict(color=RED, width=1.5), xaxis="x2", yaxis="y2",
                         legend="legend2", legendgroup="b1"))
fig.add_trace(go.Scatter(x=b_blue_t, y=b_blue_v, mode="lines", name=b_series_names[1],
                         line=dict(color=BLUE, width=1.5), xaxis="x2", yaxis="y2",
                         legend="legend2", legendgroup="b2"))

common_axis = dict(
    showline=True, mirror=True, linecolor="#333333", linewidth=1.1,
    ticks="outside", ticklen=4, tickcolor="#333333", tickwidth=1.1,
    showgrid=True, gridcolor="#EBEBEB", gridwidth=1.1,
    zeroline=False, automargin=False,
    tickfont=dict(family=FONT, size=16, color="#4D4D4D"),
)
minor_x = dict(tickvals=[0.025, 0.075, 0.125], showgrid=True, gridcolor="#EBEBEB", gridwidth=0.55)
minor_y = dict(tickvals=[-0.1, 0.1, 0.3, 0.5], showgrid=True, gridcolor="#EBEBEB", gridwidth=0.55)


def txt(text, x, y, size, xanchor="left", angle=0, bold=False):
    return dict(text=f"<b>{text}</b>" if bold else text, x=x / W, y=1 - y / H,
                xref="paper", yref="paper", xanchor=xanchor, yanchor="middle",
                showarrow=False, textangle=angle,
                font=dict(family=FONT, size=size, color="black"))


legend_common = dict(
    xanchor="left", yanchor="top",
    font=dict(family=FONT, size=16, color="black"),
    bgcolor="rgba(0,0,0,0)", tracegroupgap=8, itemwidth=30,
)

fig.update_layout(
    width=W, height=H,
    margin=dict(l=0, r=0, t=0, b=0),
    paper_bgcolor="white", plot_bgcolor="white",
    font=dict(family=FONT, color="black"),
    xaxis=dict(domain=[74.5 / W, 1132 / W], anchor="y", range=[-0.0075, 0.1575],
               tickvals=x_tickvals, ticktext=x_ticktext, minor=minor_x, **common_axis),
    yaxis=dict(domain=[1 - 401 / H, 1 - 43 / H], anchor="x", range=[-0.218, 0.537],
               tickvals=a_y_tickvals, ticktext=a_y_ticktext, minor=minor_y, **common_axis),
    xaxis2=dict(domain=[69.5 / W, 1126 / W], anchor="y2", range=[-0.0075, 0.1575],
                tickvals=x_tickvals, ticktext=x_ticktext, minor=minor_x, **common_axis),
    yaxis2=dict(domain=[1 - 861 / H, 1 - 504 / H], anchor="x2", range=[-0.1646, 0.6015],
                tickvals=b_y_tickvals, ticktext=b_y_ticktext, minor=minor_y, **common_axis),
    legend=dict(x=1161 / W, y=1 - 204 / H, **legend_common),
    legend2=dict(x=1155 / W, y=1 - 664 / H, **legend_common),
    annotations=[
        txt("a", 10, 20, 24, bold=True),
        txt(title_a, 74, 20, 24),
        txt("b", 10, 481, 24, bold=True),
        txt(title_b, 69, 481, 24),
        txt(x_title, 582, 438, 20, xanchor="center"),
        txt(x_title, 577, 897, 20, xanchor="center"),
        txt(y_title, 20, 222, 20, xanchor="center", angle=-90),
        txt(y_title, 20, 682, 20, xanchor="center", angle=-90),
        txt(legend_title, 1161, 187, 20),
        txt(legend_title, 1155, 647, 20),
    ],
)

fig.write_html("out.html")
